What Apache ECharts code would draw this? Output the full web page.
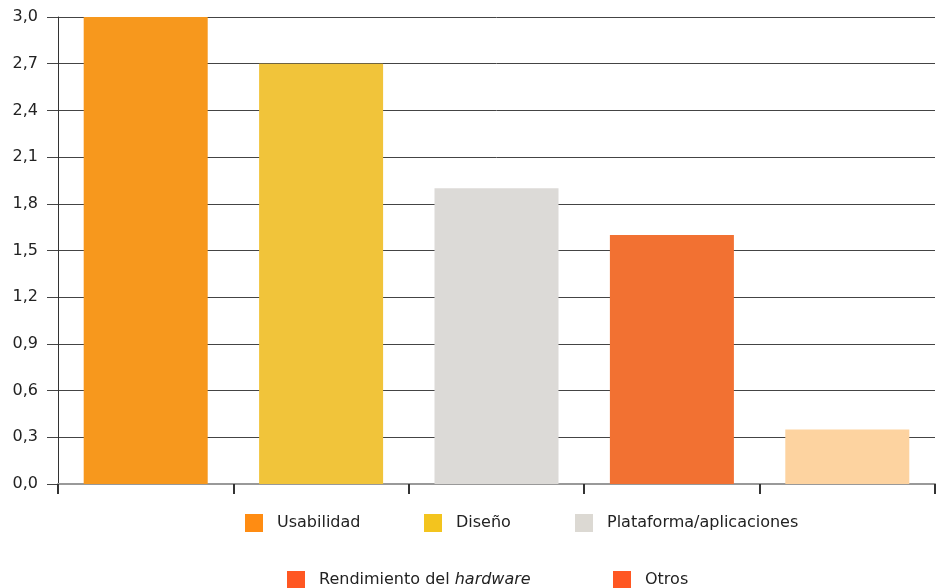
<!DOCTYPE html>
<html>
<head>
<meta charset="utf-8">
<script src="https://cdn.jsdelivr.net/npm/echarts@6/dist/echarts.min.js"></script>
<style>
  html, body { margin: 0; padding: 0; background: #fff; }
  #chart { width: 938px; height: 588px; }
</style>
</head>
<body>
<div id="chart"></div>
<script>
// Categories and their values
const categories = ['Usabilidad', 'Diseño', 'Plataforma/aplicaciones', 'Rendimiento del hardware', 'Otros'];
const values = [3.0, 2.7, 1.9, 1.6, 0.35];
const barColors = ['#F7981D', '#F1C43A', '#DCDAD7', '#F27132', '#FDD3A0'];
const legendColors = ['#FF8C12', '#F3C41E', '#DCD9D3', '#FF5722', '#FF5722'];
// Legend placement: [left, top] for each entry
const legendPos = [[245, 514], [424, 514], [575, 514], [287, 571], [613, 571]];

const FONT = '"DejaVu Sans", Verdana, sans-serif';

const series = categories.map((name, i) => ({
  name: name,
  type: 'bar',
  stack: 'all',
  barWidth: '70.7%',
  itemStyle: { color: barColors[i] },
  data: categories.map((_, j) => (j === i ? values[i] : '-'))
}));

const legends = categories.map((name, i) => ({
  left: legendPos[i][0],
  top: legendPos[i][1],
  padding: 0,
  itemWidth: 18,
  itemHeight: 18,
  selectedMode: false,
  icon: 'rect',
  data: [{ name: name, itemStyle: { color: legendColors[i] } }],
  formatter: function (n) {
    if (n === 'Rendimiento del hardware') return '{r|Rendimiento del }{i|hardware}';
    return '{r|' + n + '}';
  },
  textStyle: {
    fontFamily: FONT,
    fontSize: 16,
    color: '#222',
    padding: [0, 0, 0, 9],
    rich: {
      r: { fontFamily: FONT, fontSize: 16, color: '#222' },
      i: { fontFamily: FONT, fontSize: 16, color: '#222', fontStyle: 'italic' }
    }
  }
}));

const chart = echarts.init(document.getElementById('chart'), null, { renderer: 'canvas' });
chart.setOption({
  animation: false,
  backgroundColor: '#fff',
  grid: { left: 58, right: 3, top: 17, bottom: 104 },
  legend: legends,
  xAxis: {
    type: 'category',
    data: categories,
    axisLine: { lineStyle: { color: '#999', width: 2 } },
    axisTick: { show: true, interval: 0, length: 10, lineStyle: { color: '#333', width: 2 } },
    axisLabel: { show: false, interval: 0 }
  },
  yAxis: {
    type: 'value',
    min: 0,
    max: 3,
    interval: 0.3,
    axisLine: { show: true, lineStyle: { color: '#333', width: 1 } },
    axisTick: { show: true, length: 11, lineStyle: { color: '#444' } },
    splitLine: { show: true, lineStyle: { color: '#444', width: 1 } },
    axisLabel: {
      margin: 20,
      fontFamily: FONT,
      fontSize: 16,
      color: '#222',
      formatter: v => v.toFixed(1).replace('.', ',')
    }
  },
  series: series
});
</script>
</body>
</html>
